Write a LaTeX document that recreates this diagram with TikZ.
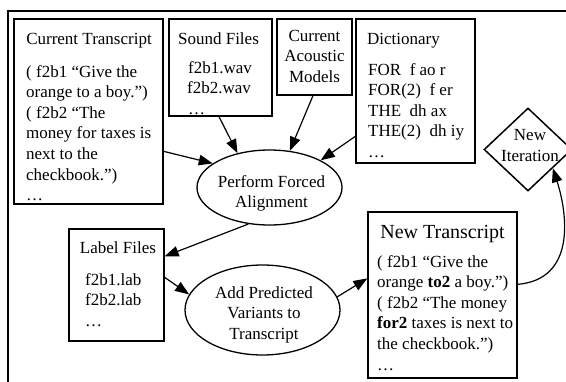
\documentclass[tikz,border=0pt]{standalone}
\usepackage{fontspec}
\setmainfont{Liberation Serif}
\usetikzlibrary{arrows.meta,shapes.geometric,calc}
\newcommand\mytxt{\fontsize{17}{20.5}\selectfont}
\newcommand\mybig{\fontsize{20}{24}\selectfont}
\tikzset{
  box/.style={draw, rectangle, line width=1.3pt, inner sep=0pt},
  ell/.style={draw, ellipse, line width=1.3pt, inner sep=0pt},
  dia/.style={draw, diamond, line width=1.5pt, inner sep=0pt},
  tl/.style={inner sep=0pt, anchor=base west, font=\mytxt},
  tc/.style={inner sep=0pt, anchor=base, font=\mytxt},
  arr/.style={-{Triangle[length=14pt,width=10.5pt]}, line width=1.2pt},
  frame/.style={line width=1.2pt}
}
\begin{document}
\begin{tikzpicture}[x=1pt,y=-1pt]
\useasboundingbox (0,0) rectangle (566,381);
\clip (0,0) rectangle (566,381);
\draw[frame] (8,395) -- (8,11) -- (590,11);

% boxes
\node[box, minimum width=149pt, minimum height=185pt] (ct) at (88.5,111.5) {};
\node[box, minimum width=103pt, minimum height=97pt] (sf) at (220.5,67.5) {};
\node[box, minimum width=75pt, minimum height=76pt] (am) at (314.5,57) {};
\node[box, minimum width=119pt, minimum height=144pt] (dc) at (415.5,91) {};
\node[box, minimum width=95pt, minimum height=112pt] (lf) at (116.5,285) {};
\node[box, minimum width=149pt, minimum height=166pt] (nt) at (442.5,295) {};
\node[ell, minimum width=145pt, minimum height=75pt] (pfa) at (269.5,187.5) {};
\node[ell, minimum width=155pt, minimum height=90pt] (apv) at (262.5,310) {};
\node[dia, minimum width=88pt, minimum height=83pt] (nd) at (528,149.5) {};

% Current Transcript
\node[tc] (ct0) at (89,44) {Current Transcript};
\node[tl] (ct1) at (26,77) {( f2b1 “Give the};
\node[tl] (ct2) at (26,97.6) {orange to a boy.”)};
\node[tl] (ct3) at (26,118.2) {( f2b2 “The};
\node[tl] (ct4) at (26,138.8) {money for taxes is};
\node[tl] (ct5) at (26,159.4) {next to the};
\node[tl] (ct6) at (26,180) {checkbook.”)};
\node[tl] (ct7) at (26,200.6) {…};

% Sound Files
\node[tc] (sf0) at (218.5,44) {Sound Files};
\node[tl] (sf1) at (188,73) {f2b1.wav};
\node[tl] (sf2) at (187,93.5) {f2b2.wav};
\node[tl] (sf3) at (188,114) {…};

% Acoustic models
\node[tc] (am1) at (314.5,41) {Current};
\node[tc] (am2) at (314.5,61.5) {Acoustic};
\node[tc] (am3) at (314.5,82) {Models};

% Dictionary
\node[tl] (dc0) at (367,44) {Dictionary};
\node[tl] (dc1) at (368,75) {FOR\ \ f ao r};
\node[tl] (dc2) at (368,95.5) {FOR(2)\ \ f er};
\node[tl] (dc3) at (368,116) {THE\ \ dh ax};
\node[tl] (dc4) at (368,136.5) {THE(2)\ \ dh iy};
\node[tl] (dc5) at (368,157) {…};

% Label Files
\node[tc] (lf0) at (118,253) {Label Files};
\node[tl] (lf1) at (85,285) {f2b1.lab};
\node[tl] (lf2) at (85,305.5) {f2b2.lab};
\node[tl] (lf3) at (85,326) {…};

% New Transcript
\node[tc, font=\mybig] (nt0) at (442.5,238) {New Transcript};
\node[tl] (nt1) at (377,267) {( f2b1 “Give the};
\node[tl] (nt2) at (377,287.5) {orange \textbf{to2} a boy.”)};
\node[tl] (nt3) at (377,308) {( f2b2 “The money};
\node[tl] (nt4) at (377,328.5) {\textbf{for2} taxes is next to};
\node[tl] (nt5) at (377,349) {the checkbook.”)};
\node[tl] (nt6) at (377,370) {…};

% ellipse texts
\node[tc] (pf1) at (271.5,187) {Perform Forced};
\node[tc] (pf2) at (271.5,207.5) {Alignment};
\node[tc] (ap1) at (264,298) {Add Predicted};
\node[tc] (ap2) at (264,318.5) {Variants to};
\node[tc] (ap3) at (264,339) {Transcript};

% diamond text
\node[tc] (nd1) at (530,140.5) {New};
\node[tc] (nd2) at (530,161) {Iteration};

% connectors
\draw[arr] ($(ct.north east)+(0,133)$) -- (pfa.157);
\draw[arr] ($(sf.south)+(-1.5,0)$) -- (pfa.133);
\draw[arr] ($(am.south)+(-1.5,0)$) -- (pfa.61);
\draw[arr] ($(dc.north west)+(0,118)$) -- (pfa.28);
\draw[arr] (pfa.240) -- ($(lf.north east)+(0,28)$);
\draw[arr] ($(lf.north east)+(0,49)$) -- (apv.168);
\draw[arr] (apv.10) -- ($(nt.north west)+(0,67)$);
\draw[arr] ($(nt.north east)+(0,73)$) .. controls ($(nt.north east)+(58,68)$) and ($(nd.-37)+(15,47)$) .. (nd.-37);
\end{tikzpicture}
\end{document}
